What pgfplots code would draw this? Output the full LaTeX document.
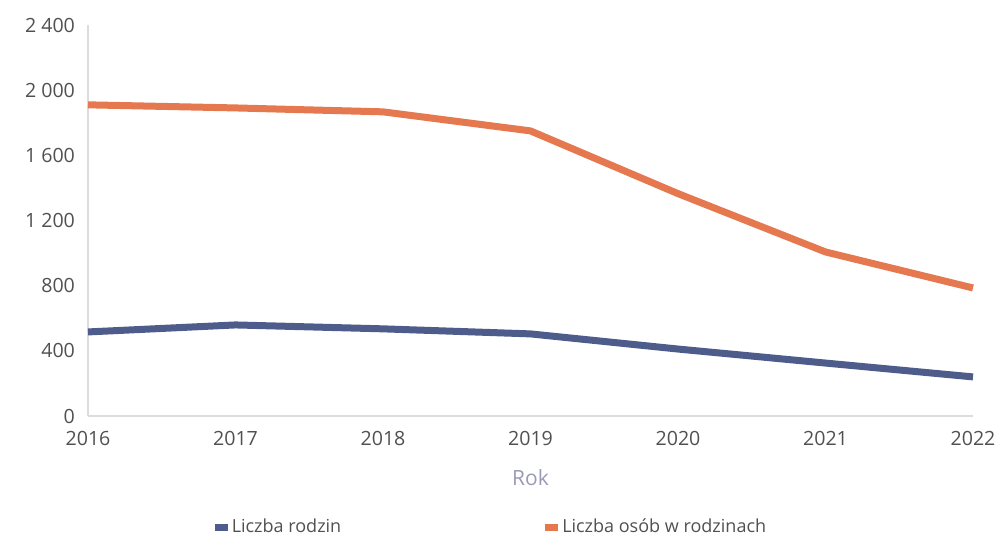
\documentclass[border=0pt]{standalone}
\usepackage{pgfplots}
\pgfplotsset{compat=1.18}
\usepackage{fontspec}
\setmainfont{Open Sans}
\definecolor{orangeC}{HTML}{E5784F}
\definecolor{blueC}{HTML}{4E5C8C}
\definecolor{txt}{HTML}{505050}
\definecolor{rok}{HTML}{9A9AB8}
\definecolor{axc}{HTML}{DCDCDC}
\begin{document}
\begin{tikzpicture}
\begin{axis}[
  name=ax,
  scale only axis,
  width=442.5pt, height=195.5pt,
  xmin=2016, xmax=2022, ymin=0, ymax=2400,
  axis x line=bottom, axis y line=left,
  axis line style={-, draw=axc, line width=0.6pt},
  xtick={2016,2017,2018,2019,2020,2021,2022},
  xticklabels={2016,2017,2018,2019,2020,2021,2022},
  ytick={0,400,800,1200,1600,2000,2400},
  yticklabels={0,400,800,1 200,1 600,2 000,2 400},
  major tick length=0pt,
  tick label style={font=\fontsize{9.8}{11}\selectfont, text=txt},
  yticklabel style={xshift=-3pt},
  xticklabel style={yshift=-4pt},
  xlabel={Rok},
  xlabel style={font=\fontsize{10.5}{12}\selectfont, text=rok, yshift=-5pt},
  legend columns=2,
  legend style={draw=none, fill=none, at={(0.457,-0.285)}, anchor=center,
    font=\fontsize{9}{11}\selectfont, text=txt,
    /tikz/every even column/.append style={column sep=100pt}},
  clip=false,
]
\addplot[blueC, line width=3.5pt, line join=round,
  legend image code/.code={\fill[blueC, draw=none, line width=0pt] (0pt,-1.8pt) rectangle (6.5pt,1.8pt);}]
  coordinates {(2016,516) (2017,559) (2018,535) (2019,504) (2020,411) (2021,325) (2022,240)};
\addlegendentry{Liczba rodzin}
\addplot[orangeC, line width=3.5pt, line join=round,
  legend image code/.code={\fill[orangeC, draw=none, line width=0pt] (0pt,-1.8pt) rectangle (6.5pt,1.8pt);}]
  coordinates {(2016,1910) (2017,1891) (2018,1867) (2019,1750) (2020,1365) (2021,1007) (2022,786)};
\addlegendentry{Liczba osób w rodzinach}
\end{axis}
\pgfresetboundingbox
\path[use as bounding box] ([shift={(-44pt,-63pt)}]ax.south west) rectangle ([shift={(13.5pt,12.5pt)}]ax.north east);
\end{tikzpicture}
\end{document}
